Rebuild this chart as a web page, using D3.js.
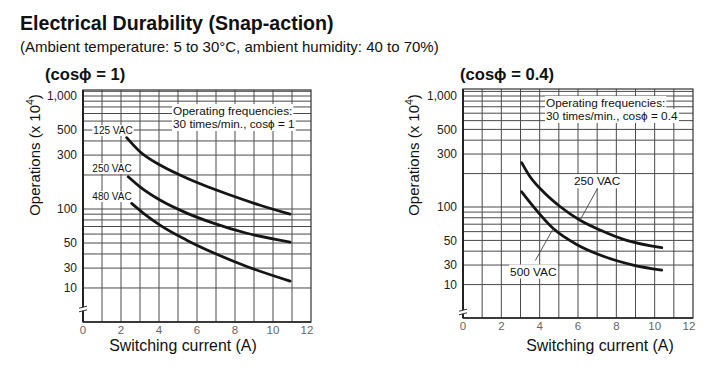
<!DOCTYPE html>
<html><head><meta charset="utf-8">
<script src="https://cdn.jsdelivr.net/npm/d3@7/dist/d3.min.js"></script>
<style>
body{margin:0;background:#fff;}
svg{display:block;font-family:"Liberation Sans",Arial,sans-serif;}
</style></head>
<body><svg id="c" width="716" height="373"></svg>
<script>
// ---- data ----
const xTicks = [0,2,4,6,8,10,12];
const xGrid = [1,2,3,4,5,6,7,8,9,10,11];
const yTickValues = [1000,500,300,100,50,30,20];
const yTickLabels = ["1,000","500","300","100","50","30","10"];
const yGrid = [20,30,40,50,60,70,80,90,100,200,300,400,500,600,700,800,900,1000,1100];

// cos phi = 1
const current125 = [2.3,3.0,4.05,5.1,6.33,7.74,9.32,10.9];
const ops125     = [428,321,245,200,163,133,108,90];
const current250a = [2.38,3.0,4.05,5.46,6.86,8.62,10.9];
const ops250a     = [193,157,120,92,75,61,51];
const current480 = [2.56,3.17,4.05,5.46,6.86,8.62,10.9];
const ops480     = [112,92,72,53,41,31,23];
// cos phi = 0.4
const current250b = [3.06,3.5,4.19,5.06,6.11,7.15,8.54,10.37];
const ops250b     = [251,187,137,101,76,62,50,43];
const current500 = [3.06,3.67,4.71,5.93,7.32,8.88,10.37];
const ops500     = [137,101,64,46,36,30,27];

const svg = d3.select("#c");

svg.append("text").attr("x",20).attr("y",30).attr("font-size",19.6).attr("font-weight","bold")
  .attr("fill","#111").text("Electrical Durability (Snap-action)");
svg.append("text").attr("x",20).attr("y",52).attr("font-size",15).attr("fill","#111")
  .text("(Ambient temperature: 5 to 30°C, ambient humidity: 40 to 70%)");

function boxedText(g, x, y, txt, size, anchor){
  const t = g.append("text").attr("x",x).attr("y",y).attr("font-size",size)
    .attr("text-anchor",anchor||"start").attr("fill","#111").text(txt);
  const b = t.node().getBBox();
  g.insert("rect", () => t.node()).attr("x",b.x-1).attr("y",b.y).attr("width",b.width+2)
    .attr("height",b.height).attr("fill","#fff");
  return t;
}

function panel(cfg){
  const g = svg.append("g");
  const x = d3.scaleLinear().domain([0,12]).range([cfg.x0,cfg.x1]);
  const y = d3.scaleLog().domain([10,1000]).range([cfg.bottom,cfg.y1000]);

  // grid
  g.selectAll(".hg").data(yGrid).join("line")
    .attr("x1",cfg.x0).attr("x2",cfg.x1).attr("y1",d=>y(d)).attr("y2",d=>y(d))
    .attr("stroke","#4a4a4a").attr("stroke-width",1);
  g.selectAll(".vg").data(xGrid).join("line")
    .attr("x1",d=>x(d)).attr("x2",d=>x(d)).attr("y1",cfg.top).attr("y2",cfg.bottom)
    .attr("stroke","#4a4a4a").attr("stroke-width",1);
  // frame
  g.append("rect").attr("x",cfg.x0).attr("y",cfg.top).attr("width",cfg.x1-cfg.x0)
    .attr("height",cfg.bottom-cfg.top).attr("fill","none").attr("stroke","#333").attr("stroke-width",1.2);
  g.append("line").attr("x1",cfg.x0).attr("x2",cfg.x0).attr("y1",cfg.top).attr("y2",cfg.bottom)
    .attr("stroke","#222").attr("stroke-width",2);
  g.append("line").attr("x1",cfg.x0).attr("x2",cfg.x1).attr("y1",cfg.bottom).attr("y2",cfg.bottom)
    .attr("stroke","#222").attr("stroke-width",1.6);
  // axis break
  const by = cfg.breakY;
  g.append("rect").attr("x",cfg.x0-3).attr("y",by-2).attr("width",6).attr("height",4).attr("fill","#fff");
  [-1.8,1.8].forEach(o=>g.append("line").attr("x1",cfg.x0-4).attr("x2",cfg.x0+4)
    .attr("y1",by+o+1).attr("y2",by+o-1).attr("stroke","#333").attr("stroke-width",1));

  // y tick labels
  g.selectAll(".yl").data(yTickValues).join("text")
    .attr("x",cfg.x0-6).attr("y",d=>y(d)+4.2).attr("text-anchor","end")
    .attr("font-size",12).attr("fill","#222").text((d,i)=>yTickLabels[i]);
  // x tick labels
  g.selectAll(".xl").data(xTicks).join("text")
    .attr("x",d=>x(d)-(d===12?4:0)).attr("y",cfg.bottom+cfg.xlabDy).attr("text-anchor","middle")
    .attr("font-size",11.5).attr("fill","#666").text(d=>d);

  // titles
  g.append("text").attr("x",cfg.capX).attr("y",80).attr("font-size",16.6).attr("font-weight","bold")
    .attr("fill","#111").text(cfg.cap);
  g.append("text").attr("x",cfg.xTitleX).attr("y",351).attr("text-anchor","middle")
    .attr("font-size",15.9).attr("fill","#111").text("Switching current (A)");
  const yt = g.append("text").attr("transform",`translate(${cfg.yTitleX},155) rotate(-90)`)
    .attr("text-anchor","middle").attr("font-size",15).attr("fill","#111");
  yt.append("tspan").text("Operations  (x 10");
  yt.append("tspan").attr("font-size",10.5).attr("dy",-6).text("4");
  yt.append("tspan").attr("dy",6).text(")");

  // annotation
  boxedText(g, cfg.noteX, cfg.noteY, "Operating frequencies:", 11.8);
  boxedText(g, cfg.noteX, cfg.noteY+13, cfg.note2, 11.8);

  const line = d3.line().x(d=>x(d[0])).y(d=>y(d[1])).curve(d3.curveMonotoneX);
  cfg.series.forEach(s=>{
    g.append("path").attr("d",line(s.xs.map((v,i)=>[v,s.ys[i]])))
      .attr("fill","none").attr("stroke","#151515").attr("stroke-width",2.8)
      .attr("stroke-linecap","round");
  });
  return {g,x,y};
}

const L = panel({x0:83,x1:311,top:90,bottom:322,y1000:96,breakY:309,xlabDy:12,
  cap:"(cosϕ = 1)",capX:45,xTitleX:183,yTitleX:40,noteX:173,noteY:115,
  note2:"30 times/min., cosϕ = 1",
  series:[{xs:current125,ys:ops125},{xs:current250a,ys:ops250a},{xs:current480,ys:ops480}]});
boxedText(L.g, 113, 134, "125 VAC", 10, "middle");
boxedText(L.g, 112, 172, "250 VAC", 10, "middle");
boxedText(L.g, 112, 200, "480 VAC", 10, "middle");

const R = panel({x0:463,x1:693,top:89,bottom:318,y1000:96,breakY:312,xlabDy:12,
  cap:"(cosϕ = 0.4)",capX:460,xTitleX:600,yTitleX:419,noteX:546,noteY:107,
  note2:"30 times/min., cosϕ = 0.4",
  series:[{xs:current250b,ys:ops250b},{xs:current500,ys:ops500}]});
// leaders
const p250 = [R.x(current250b[4]),R.y(ops250b[4])];
R.g.append("line").attr("x1",p250[0]).attr("y1",p250[1]).attr("x2",p250[0]+18).attr("y2",p250[1]-33)
  .attr("stroke","#444").attr("stroke-width",0.9);
boxedText(R.g, p250[0]+17, p250[1]-35, "250 VAC", 11.8, "middle");
const p500 = [R.x(current500[2]),R.y(ops500[2])];
R.g.append("line").attr("x1",p500[0]).attr("y1",p500[1]).attr("x2",p500[0]-18).attr("y2",p500[1]+32)
  .attr("stroke","#444").attr("stroke-width",0.9);
boxedText(R.g, p500[0]-20, p500[1]+47, "500 VAC", 11.8, "middle");
</script></body></html>
